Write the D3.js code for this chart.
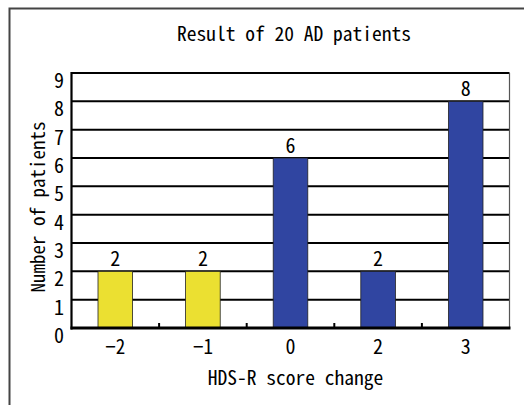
<!DOCTYPE html>
<html><head><meta charset="utf-8">
<script src="https://cdn.jsdelivr.net/npm/d3@7"></script>
<style>html,body{margin:0;padding:0;background:#fff;}svg{display:block;}</style>
</head><body>
<script>
const categories = ["−2", "−1", "0", "2", "3"];
const values = [2, 2, 6, 2, 8];
const barColors = ["#ebe031", "#ebe031", "#3045a1", "#3045a1", "#3045a1"];
const yTicks = [0, 1, 2, 3, 4, 5, 6, 7, 8, 9];
const title = "Result of 20 AD patients";
const xTitle = "HDS-R score change";
const yTitle = "Number of patients";

const W = 524, H = 405;
const FONT = "'Noto Sans Mono CJK JP','DejaVu Sans Mono','Liberation Mono',monospace";
const svg = d3.select("body").append("svg").attr("width", W).attr("height", H);

// outer frame
svg.append("path").attr("d", `M9.5,${H} V8.5 H${W}`).attr("fill", "none")
  .attr("stroke", "#444").attr("stroke-width", 2);

const L = 71.5, R = 509.5, T = 73, B = 328;
const x = d3.scaleBand().domain(categories).range([L, R]).paddingInner(0).paddingOuter(0);
const y = d3.scaleLinear().domain([0, 9]).range([B, T]);

function monoText(sel, fs) {
  sel.attr("font-family", FONT).attr("font-size", fs)
    .attr("textLength", d => null)
    .each(function() {
      const t = d3.select(this).text();
      d3.select(this).attr("textLength", t.length * fs * 0.5).attr("lengthAdjust", "spacingAndGlyphs");
    });
}

// gridlines
svg.append("g").selectAll("line").data(yTicks.filter(v => v > 0)).join("line")
  .attr("x1", L).attr("x2", R).attr("y1", d => y(d)).attr("y2", d => y(d))
  .attr("stroke", "#000").attr("stroke-width", 2);

// right border
svg.append("line").attr("x1", R).attr("x2", R).attr("y1", T).attr("y2", B)
  .attr("stroke", "#555").attr("stroke-width", 1.2);

// bars
const bw = x.bandwidth() * 0.395;
svg.append("g").selectAll("rect").data(values).join("rect")
  .attr("x", (d, i) => x(categories[i]) + x.bandwidth() / 2 - bw / 2)
  .attr("width", bw)
  .attr("y", d => y(d))
  .attr("height", d => B - y(d))
  .attr("fill", (d, i) => barColors[i])
  .attr("stroke", "#222").attr("stroke-width", 0.8);

// value labels
svg.append("g").selectAll("text").data(values).join("text")
  .attr("x", (d, i) => x(categories[i]) + x.bandwidth() / 2)
  .attr("y", d => y(d) - 5)
  .attr("text-anchor", "middle")
  .text(d => d)
  .call(monoText, 20);

// left axis line
svg.append("line").attr("x1", L).attr("x2", L).attr("y1", T - 1).attr("y2", B + 1.5)
  .attr("stroke", "#000").attr("stroke-width", 2.2);
// bottom axis line
svg.append("line").attr("x1", L - 1).attr("x2", R + 1).attr("y1", B).attr("y2", B)
  .attr("stroke", "#000").attr("stroke-width", 3);

// category boundary ticks
const bounds = categories.slice(1).map(c => x(c));
svg.append("g").selectAll("line").data(bounds).join("line")
  .attr("x1", d => d).attr("x2", d => d).attr("y1", B).attr("y2", B - 5)
  .attr("stroke", "#000").attr("stroke-width", 2);

// y tick labels
svg.append("g").selectAll("text").data(yTicks).join("text")
  .attr("x", 64).attr("y", d => y(d) + 15)
  .attr("text-anchor", "end")
  .text(d => d)
  .call(monoText, 20);

// x tick labels
svg.append("g").selectAll("text").data(categories).join("text")
  .attr("x", d => x(d) + x.bandwidth() / 2)
  .attr("y", 354)
  .attr("text-anchor", "middle")
  .text(d => d)
  .call(monoText, 20);

// titles
svg.append("text").attr("x", 294).attr("y", 41).attr("text-anchor", "middle")
  .text(title).call(monoText, 19.5);
svg.append("text").attr("x", 295.5).attr("y", 385).attr("text-anchor", "middle")
  .text(xTitle).call(monoText, 19.5);
svg.append("text").attr("transform", "translate(45,207) rotate(-90)")
  .attr("text-anchor", "middle")
  .text(yTitle).call(monoText, 19);
</script>
</body></html>
